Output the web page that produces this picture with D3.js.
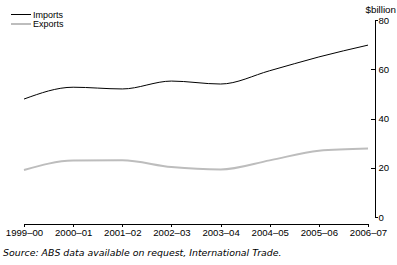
<!DOCTYPE html>
<html><head><meta charset="utf-8">
<script src="https://cdn.jsdelivr.net/npm/d3@7"></script>
<style>
html,body{margin:0;padding:0;background:#fff;}
svg text{font-family:"Liberation Sans",Arial,sans-serif;font-size:9px;fill:#000;}
</style></head>
<body><svg id="c" width="397" height="265"></svg>
<script>
const categories = ["1999–00","2000–01","2001–02","2002–03","2003–04","2004–05","2005–06","2006–07"];
const imports = [47.9, 52.7, 52.0, 55.2, 54.0, 59.4, 65.0, 69.8];
const exports = [19.1, 22.9, 23.0, 20.3, 19.3, 23.0, 26.9, 27.8];
const yTicks = [0, 20, 40, 60, 80];
const seriesNames = ["Imports", "Exports"];

const svg = d3.select("#c");
const x = d3.scalePoint().domain(categories).range([24, 368]);
const y = d3.scaleLinear().domain([0, 80]).range([217, 20]);

// x axis
const xa = svg.append("g").attr("transform","translate(0,223.5)")
  .call(d3.axisBottom(x).tickSizeInner(3).tickSizeOuter(0).tickPadding(3));
xa.selectAll("path,line").attr("stroke","#000").attr("shape-rendering","crispEdges");
xa.selectAll("text").style("font-size","9.6px").attr("fill","#000");

// y axis
const ya = svg.append("g").attr("transform","translate(374.5,0)")
  .call(d3.axisRight(y).tickValues(yTicks).tickSizeInner(-4).tickSizeOuter(3).tickPadding(4).tickFormat(d3.format("d")));
ya.selectAll("path,line").attr("stroke","#000").attr("shape-rendering","crispEdges");
ya.selectAll(".tick").filter(d => d === 0 || d === 80).select("line").remove();
ya.selectAll("text").style("font-size","9.6px").attr("fill","#000");

svg.append("text").attr("x",396).attr("y",12.5).attr("text-anchor","end").style("font-size","9.8px").text("$billion");

const line = d3.line().x((d,i)=>x(categories[i])).y(d=>y(d)).curve(d3.curveMonotoneX);
svg.append("path").datum(exports).attr("d",line).attr("fill","none").attr("stroke","#bdbdbd").attr("stroke-width",2);
svg.append("path").datum(imports).attr("d",line).attr("fill","none").attr("stroke","#000").attr("stroke-width",1);

// legend
const legColors = ["#000","#bdbdbd"], legW = [1,2], legY = [14.5, 24];
seriesNames.forEach((n,i)=>{
  svg.append("line").attr("x1",11).attr("x2",31).attr("y1",legY[i]).attr("y2",legY[i])
    .attr("stroke",legColors[i]).attr("stroke-width",legW[i]);
  svg.append("text").attr("x",33).attr("y",legY[i]+3).text(n);
});

svg.append("text").attr("x",3).attr("y",256)
  .style("font-style","italic").style("font-family","'DejaVu Sans',sans-serif").style("font-size","9.4px")
  .text("Source: ABS data available on request, International Trade.");
</script></body></html>
